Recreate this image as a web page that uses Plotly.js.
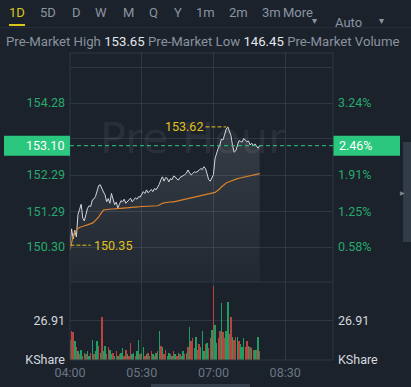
<!DOCTYPE html>
<html>
<head>
<meta charset="utf-8">
<script src="https://cdn.plot.ly/plotly-3.0.1.min.js"></script>
<style>
html,body{margin:0;padding:0;background:#1b222c;}
#chart{width:411px;height:387px;}
</style>
</head>
<body>
<div id="chart"></div>
<script>
// ---------- data ----------
const startMinute = 0;      // minutes after 04:00
const stepMinutes = 2;
const price = [150.35,150.80,150.52,150.76,150.58,151.20,151.34,151.48,151.10,151.02,
151.20,151.37,151.44,151.42,151.60,151.63,151.70,151.88,152.00,152.02,
151.90,151.82,151.74,151.55,151.64,151.51,151.78,151.60,151.47,151.54,
151.38,151.48,151.58,151.55,151.62,151.51,151.56,151.60,151.65,151.55,
151.60,151.66,151.62,151.69,151.68,151.76,151.83,151.78,151.88,151.80,
151.86,151.89,151.83,151.92,151.88,151.96,152.03,152.16,152.24,152.12,
152.22,152.20,152.10,152.19,152.16,152.26,152.24,152.18,152.15,152.22,
152.24,152.26,152.30,152.34,152.43,152.35,152.29,152.33,152.38,152.36,
152.38,152.42,152.47,152.44,152.52,152.47,152.32,152.16,152.12,152.20,
152.30,152.75,152.93,153.03,153.12,153.28,153.26,153.42,153.56,153.62,
153.52,153.38,153.10,152.92,152.96,153.12,153.24,153.22,153.20,153.30,
153.24,153.21,153.23,153.12,153.17,153.10,153.15,153.07,153.03,153.10];
const avgPrice = [150.22,150.45,150.60,150.70,150.77,150.82,150.84,150.86,150.87,150.88,
150.90,150.91,150.92,150.94,150.96,150.99,151.03,151.07,151.13,151.20,
151.27,151.32,151.33,151.34,151.34,151.35,151.35,151.35,151.36,151.36,
151.37,151.37,151.37,151.38,151.38,151.38,151.38,151.39,151.39,151.39,
151.40,151.40,151.41,151.41,151.41,151.42,151.42,151.42,151.43,151.43,
151.43,151.43,151.43,151.43,151.43,151.44,151.46,151.49,151.51,151.52,
151.53,151.53,151.54,151.54,151.55,151.55,151.56,151.56,151.57,151.58,
151.59,151.60,151.61,151.62,151.62,151.63,151.64,151.65,151.66,151.67,
151.68,151.69,151.70,151.71,151.72,151.73,151.74,151.75,151.76,151.77,
151.79,151.81,151.84,151.87,151.91,151.96,152.00,152.04,152.07,152.09,
152.11,152.13,152.15,152.17,152.18,152.19,152.20,152.21,152.22,152.23,
152.24,152.25,152.26,152.27,152.28,152.29,152.30,152.31,152.32,152.33];
const volume = [14,20,19,13,9,6,4,7,3,5,
4,6,3,5,14,4,6,13,10,5,
30,6,10,4,9,7,4,5,3,6,
3,4,5,8,3,7,4,3,12,4,
5,3,6,14,4,5,9,3,4,5,
3,6,4,3,5,6,20,10,9,4,
7,3,5,4,3,6,4,3,5,4,
3,6,4,5,9,23,13,15,8,16,
7,11,9,20,6,11,12,8,15,21,
51,24,12,15,20,39,19,15,20,40,
18,30,16,14,16,16,13,11,9,15,
9,13,10,9,8,7,7,7,16,6];
const volumeDir = ("grrgrgrgrg" + "rggrgrggrg" + "rggrrggrgr" + "grggrrgrrg" +
  "grggrggrgr" + "grgrgrgrgr" + "rggrgrgrgr" + "ggrgrgrrgg" +
  "rrgggrgrrg" + "rggrrgrrgg" + "rrgrrgrggg" + "rrgrgrgrgr").split("");

const timeTickLabels = ["04:00","05:30","07:00","08:30"];
const priceTickVals = [155.27,154.28,153.29,152.29,151.29,150.30];
const priceTickText = ["","154.28","","152.29","151.29","150.30"];
const pctTickText = ["","3.24%","","1.91%","1.25%","0.58%"];
const volTickVals = [0,26.91];
const volTickText = ["KShare","26.91"];
const lastPrice = 153.10;
const lastPriceText = "153.10";
const lastPctText = "2.46%";
const tabs = ["1D","5D","D","W","M","Q","Y","1m","2m","3m","More"];
const headerText = ["Pre-Market High","153.65","Pre-Market Low","146.45","Pre-Market Volume"];
const watermark = "Pre Hour";

// ---------- derived ----------
const minutes = price.map((_, i) => startMinute + i * stepMinutes);
const toMin = s => { const [h, m] = s.split(":").map(Number); return (h - 4) * 60 + m; };
const timeTickVals = timeTickLabels.map(toMin);
const priceRange = [149.333, 155.662];
const volRange = [0, 53.82];
const split = 0.2541;

const W = 411, H = 387, ML = 70, MR = 78, MT = 53, MB = 27;
const PW = W - ML - MR, PH = H - MT - MB;
const X = px => (px - ML) / PW;
const Y = py => (H - MB - py) / PH;

let peakI = 0, lowI = 0;
price.forEach((p, i) => { if (p > price[peakI]) peakI = i; if (p < price[lowI]) lowI = i; });

const GREEN = "#2bc77e", GRID = "#2f3743", BG = "#1b222c";
const FONT = "Roboto, 'Noto Sans', sans-serif";

const traces = [
  { x: minutes, y: price, xaxis: "x", yaxis: "y", type: "scatter", mode: "lines",
    line: { color: "#d3d7dd", width: 1 }, fill: "tozeroy",
    fillcolor: "rgba(255,255,255,0.07)",
    fillgradient: { type: "vertical", start: priceRange[0], stop: 153.7,
      colorscale: [[0, "rgba(255,255,255,0.03)"], [1, "rgba(255,255,255,0.12)"]] },
    hoverinfo: "skip" },
  { x: minutes, y: avgPrice, xaxis: "x", yaxis: "y", type: "scatter", mode: "lines",
    line: { color: "#d9822b", width: 1.2 }, hoverinfo: "skip" },
  { x: [0], y: [lastPrice], xaxis: "x", yaxis: "y2", type: "scatter", mode: "markers",
    marker: { opacity: 0 }, hoverinfo: "skip" },
  { x: minutes, y: volume, xaxis: "x", yaxis: "y3", type: "bar", width: 1.8,
    marker: { color: volumeDir.map(d => d === "g" ? "#1f9e63" : "#b9443e"), line: { width: 0 } },
    hoverinfo: "skip" },
  { x: [0], y: [0], xaxis: "x", yaxis: "y4", type: "scatter", mode: "markers",
    marker: { opacity: 0 }, hoverinfo: "skip" }
];

const annotations = [];
annotations.push({ xref: "paper", yref: "paper", x: X(193), y: Y(138), text: watermark, showarrow: false,
  xanchor: "center", yanchor: "middle",
  font: { family: "'DejaVu Sans', sans-serif", size: 43, color: "rgba(255,255,255,0.07)" } });
const tabX = [17, 48, 76, 101, 128, 153, 177.5, 205, 238, 271, 297.5];
tabs.forEach((t, i) => annotations.push({
  xref: "paper", yref: "paper", x: X(tabX[i]), y: Y(13), text: t, showarrow: false,
  xanchor: "center", yanchor: "middle",
  font: { family: FONT, size: 13, color: i === 0 ? "#d8c61d" : "#8b94a1" } }));
annotations.push({ xref: "paper", yref: "paper", x: X(319), y: Y(13), text: "▾", showarrow: false,
  font: { family: FONT, size: 10, color: "#8b94a1" } });
annotations.push({ xref: "paper", yref: "paper", x: X(363.5), y: Y(13), text: "Auto", showarrow: false,
  font: { family: FONT, size: 13, color: "#8b94a1" } });
annotations.push({ xref: "paper", yref: "paper", x: X(386), y: Y(13), text: "▾", showarrow: false,
  font: { family: FONT, size: 10, color: "#8b94a1" } });
annotations.push({ xref: "paper", yref: "paper", x: X(4), y: Y(42), xanchor: "left", yanchor: "middle",
  showarrow: false, font: { family: FONT, size: 13.2, color: "#8a929e" },
  text: headerText[0] + " <span style='color:#e4e7eb'>" + headerText[1] + "</span> " +
        headerText[2] + " <span style='color:#e4e7eb'>" + headerText[3] + "</span> " + headerText[4] });
annotations.push({ xref: "paper", yref: "y", x: X(66), y: lastPrice, xanchor: "right", yanchor: "middle",
  text: lastPriceText, showarrow: false, font: { family: FONT, size: 12.5, color: "#ffffff" } });
annotations.push({ xref: "paper", yref: "y", x: X(336.5), y: lastPrice, xanchor: "left", yanchor: "middle",
  text: lastPctText, showarrow: false, font: { family: FONT, size: 12.5, color: "#ffffff" } });
annotations.push({ xref: "x", yref: "y", x: minutes[peakI] - 29, y: price[peakI], xanchor: "right", yanchor: "middle",
  text: price[peakI].toFixed(2), showarrow: false, font: { family: FONT, size: 12.5, color: "#e3c21c" } });
annotations.push({ xref: "x", yref: "y", x: minutes[lowI] + 27, y: price[lowI], xanchor: "left", yanchor: "middle",
  text: price[lowI].toFixed(2), showarrow: false, font: { family: FONT, size: 12.5, color: "#e3c21c" } });
annotations.push({ xref: "paper", yref: "paper", x: X(407), y: Y(192), text: "▶", showarrow: false,
  font: { family: FONT, size: 6, color: "#7d8694" } });

const lastDom = (lastPrice - priceRange[0]) / (priceRange[1] - priceRange[0]);
const shapes = [
  { type: "line", xref: "paper", yref: "paper", x0: X(0), x1: X(411), y0: Y(27.7), y1: Y(27.7),
    line: { color: "#2a323d", width: 1 } },
  { type: "rect", xref: "paper", yref: "paper", x0: X(9), x1: X(25), y0: Y(26), y1: Y(24),
    fillcolor: "#d8c61d", line: { width: 0 } },
  { type: "rect", xref: "paper", yref: "paper", x0: 0, x1: 1, y0: 0, y1: 1,
    line: { color: GRID, width: 1 } },
  { type: "line", xref: "paper", yref: "paper", x0: 0, x1: 1, y0: split, y1: split,
    line: { color: GRID, width: 1 } },
  { type: "line", xref: "paper", yref: "y", x0: 0, x1: 1, y0: lastPrice, y1: lastPrice,
    line: { color: GREEN, width: 1, dash: "4px,3px" } },
  { type: "rect", xref: "paper", yref: "y domain", xsizemode: "pixel", ysizemode: "pixel",
    xanchor: 0, x0: -66, x1: 0, yanchor: lastDom, y0: -10, y1: 10,
    fillcolor: GREEN, line: { width: 0 } },
  { type: "rect", xref: "paper", yref: "y domain", xsizemode: "pixel", ysizemode: "pixel",
    xanchor: 1, x0: 0.5, x1: 67, yanchor: lastDom, y0: -10, y1: 10,
    fillcolor: GREEN, line: { width: 0 } },
  { type: "line", xref: "x", yref: "y", x0: minutes[peakI] - 28, x1: minutes[peakI] - 2,
    y0: price[peakI], y1: price[peakI], line: { color: "#e3c21c", width: 1, dash: "4px,2px" } },
  { type: "line", xref: "x", yref: "y", x0: minutes[lowI] + 0.5, x1: minutes[lowI] + 26,
    y0: price[lowI], y1: price[lowI], line: { color: "#e3c21c", width: 1, dash: "4px,2px" } },
  { type: "rect", xref: "paper", yref: "paper", x0: X(403), x1: X(411), y0: Y(242), y1: Y(142),
    fillcolor: "#323b48", line: { width: 0 } },
  { type: "rect", xref: "paper", yref: "paper", x0: X(151), x1: X(250), y0: Y(387), y1: Y(384),
    fillcolor: "#363f4c", line: { width: 0 } }
];

const layout = {
  width: W, height: H, margin: { l: ML, r: MR, t: MT, b: MB, pad: 0 },
  paper_bgcolor: BG, plot_bgcolor: BG, showlegend: false, bargap: 0,
  font: { family: FONT },
  xaxis: { anchor: "y3", range: [0, 330], tickvals: timeTickVals, ticktext: timeTickLabels,
    showgrid: true, gridcolor: GRID, gridwidth: 1, zeroline: false, showline: false, ticks: "",
    ticklabelstandoff: 3,
    tickfont: { family: FONT, size: 12.5, color: "#6c7583" }, fixedrange: true },
  yaxis: { domain: [split, 1], range: priceRange, tickvals: priceTickVals, ticktext: priceTickText,
    showgrid: true, gridcolor: GRID, zeroline: false, showline: false, ticks: "",
    ticklabelstandoff: 4, tickfont: { family: FONT, size: 12.5, color: "#26a96c" }, fixedrange: true },
  yaxis2: { overlaying: "y", side: "right", anchor: "x", range: priceRange, tickvals: priceTickVals,
    ticktext: pctTickText, showgrid: false, zeroline: false, showline: false, ticks: "",
    ticklabelstandoff: 4, tickfont: { family: FONT, size: 12.5, color: "#26a96c" }, fixedrange: true },
  yaxis3: { domain: [0, split], range: volRange, tickvals: volTickVals, ticktext: volTickText,
    showgrid: true, gridcolor: GRID, zeroline: false, showline: false, ticks: "",
    ticklabelstandoff: 4, tickfont: { family: FONT, size: 12.5, color: "#d5d9de" }, fixedrange: true },
  yaxis4: { overlaying: "y3", side: "right", anchor: "x", range: volRange, tickvals: volTickVals,
    ticktext: volTickText, showgrid: false, zeroline: false, showline: false, ticks: "",
    ticklabelstandoff: 4, tickfont: { family: FONT, size: 12.5, color: "#d5d9de" }, fixedrange: true },
  shapes: shapes, annotations: annotations
};

Plotly.newPlot("chart", traces, layout, { displayModeBar: false, staticPlot: true });
</script>
</body>
</html>
